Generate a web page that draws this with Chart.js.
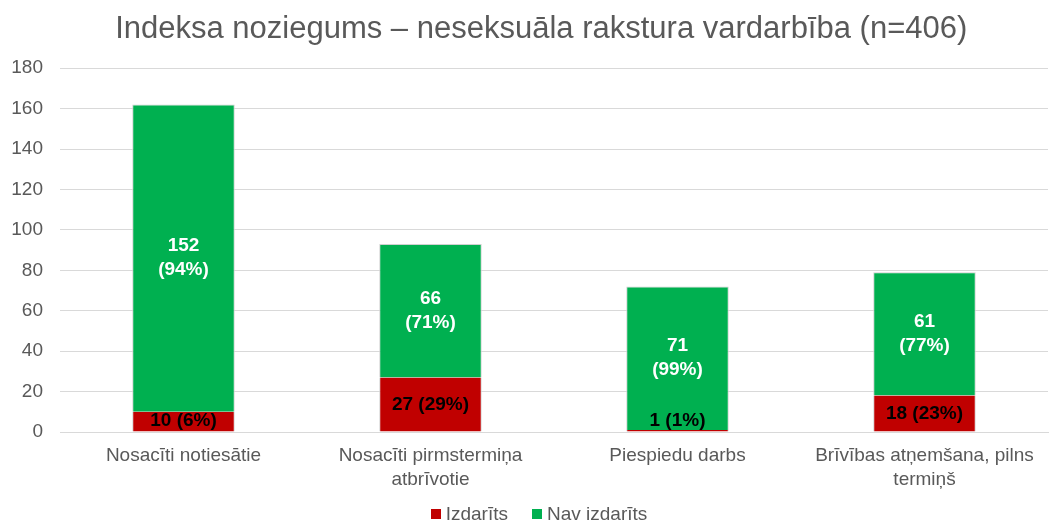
<!DOCTYPE html>
<html>
<head>
<meta charset="utf-8">
<script src="https://cdn.jsdelivr.net/npm/chart.js@4"></script>
<style>
    html, body { margin: 0; padding: 0; background: #ffffff; }
    #wrap { width: 1063px; height: 525px; position: relative; }
    #legend {
        position: absolute; left: 0; top: 503px; width: 1063px; height: 22px;
        padding-left: 15px; box-sizing: border-box;
        display: flex; justify-content: center; align-items: center;
        font-family: 'Liberation Sans', Arial, sans-serif; font-size: 19px; color: #595959;
    }
    #legend .item { display: flex; align-items: center; margin: 0 12px; }
    #legend .box { width: 10px; height: 10px; margin-right: 5px; }
</style>
</head>
<body>
<div id="wrap">
    <canvas id="myChart"></canvas>
    <div id="legend"></div>
</div>
<script>
// Chart data
const categories = [
    'Nosacīti notiesātie',
    ['Nosacīti pirmstermiņa', 'atbrīvotie'],
    'Piespiedu darbs',
    ['Brīvības atņemšana, pilns', 'termiņš']
];
const izdarits = [10, 27, 1, 18];
const navIzdarits = [152, 66, 71, 61];
const yTicks = [0, 20, 40, 60, 80, 100, 120, 140, 160, 180];

const FONT = "'Liberation Sans', Arial, sans-serif";
const GREY = '#595959';

function pct(v, i) {
    const total = izdarits[i] + navIzdarits[i];
    return Math.round(v / total * 100) + '%';
}

// Draw labels in the middle of each stacked segment (like Excel data labels)
const segmentLabels = {
    id: 'segmentLabels',
    afterDatasetsDraw(chart) {
        const ctx = chart.ctx;
        const bottom = chart.chartArea.bottom;
        ctx.save();
        ctx.font = 'bold 19px ' + FONT;
        ctx.textAlign = 'center';
        ctx.textBaseline = 'middle';
        chart.data.datasets.forEach((ds, di) => {
            chart.getDatasetMeta(di).data.forEach((bar, i) => {
                const v = ds.data[i];
                let y = (bar.y + bar.base) / 2;
                if (di === 0) {
                    y = Math.min(y, bottom - 11);
                    ctx.fillStyle = '#000000';
                    ctx.fillText(v + ' (' + pct(v, i) + ')', bar.x, y);
                } else {
                    ctx.fillStyle = '#ffffff';
                    ctx.fillText(String(v), bar.x, y - 12);
                    ctx.fillText('(' + pct(v, i) + ')', bar.x, y + 12);
                }
            });
        });
        ctx.restore();
    }
};

const ctx = document.getElementById('myChart').getContext('2d');
const myChart = new Chart(ctx, {
    type: 'bar',
    data: {
        labels: categories,
        datasets: [
            {
                label: 'Izdarīts',
                data: izdarits,
                backgroundColor: '#C00000',
                borderColor: '#d0d0d0',
                borderWidth: { top: 0, left: 1, right: 1, bottom: 0 },
                borderSkipped: 'bottom'
            },
            {
                label: 'Nav izdarīts',
                data: navIzdarits,
                backgroundColor: '#00B050',
                borderColor: '#d0d0d0',
                borderWidth: 1,
                borderSkipped: 'bottom'
            }
        ]
    },
    options: {
        responsive: true,
        maintainAspectRatio: false,
        animation: false,
        categoryPercentage: 1.0,
        barPercentage: 0.415,
        layout: {
            padding: { left: 0, right: 15, top: 0, bottom: 23 }
        },
        plugins: {
            title: {
                display: true,
                text: '\u00A0\u00A0\u00A0\u00A0Indeksa noziegums – neseksuāla rakstura vardarbība (n=406)',
                color: GREY,
                font: { family: FONT, size: 31, weight: 'normal' },
                padding: { top: 11, bottom: 20 }
            },
            legend: { display: false },
            tooltip: { enabled: false }
        },
        scales: {
            x: {
                stacked: true,
                grid: { display: false, drawTicks: false },
                border: { display: true, color: '#d9d9d9' },
                afterFit(axis) {
                    axis.height = 70;
                },
                ticks: {
                    color: GREY,
                    font: { family: FONT, size: 19, lineHeight: 1.26 },
                    padding: 12,
                    maxRotation: 0,
                    autoSkip: false
                }
            },
            y: {
                stacked: true,
                min: 0,
                max: 180,
                afterBuildTicks(axis) {
                    axis.ticks = yTicks.map(v => ({ value: v }));
                },
                afterFit(axis) {
                    axis.width = 60;
                },
                grid: { color: '#d9d9d9', drawTicks: false },
                border: { display: false },
                ticks: {
                    color: GREY,
                    font: { family: FONT, size: 19 },
                    padding: 17
                }
            }
        }
    },
    plugins: [segmentLabels]
});

// Legend below the chart, built from the datasets
const legendEl = document.getElementById('legend');
myChart.data.datasets.forEach(ds => {
    const item = document.createElement('span');
    item.className = 'item';
    const box = document.createElement('span');
    box.className = 'box';
    box.style.background = ds.backgroundColor;
    item.appendChild(box);
    item.appendChild(document.createTextNode(ds.label));
    legendEl.appendChild(item);
});
</script>
</body>
</html>
